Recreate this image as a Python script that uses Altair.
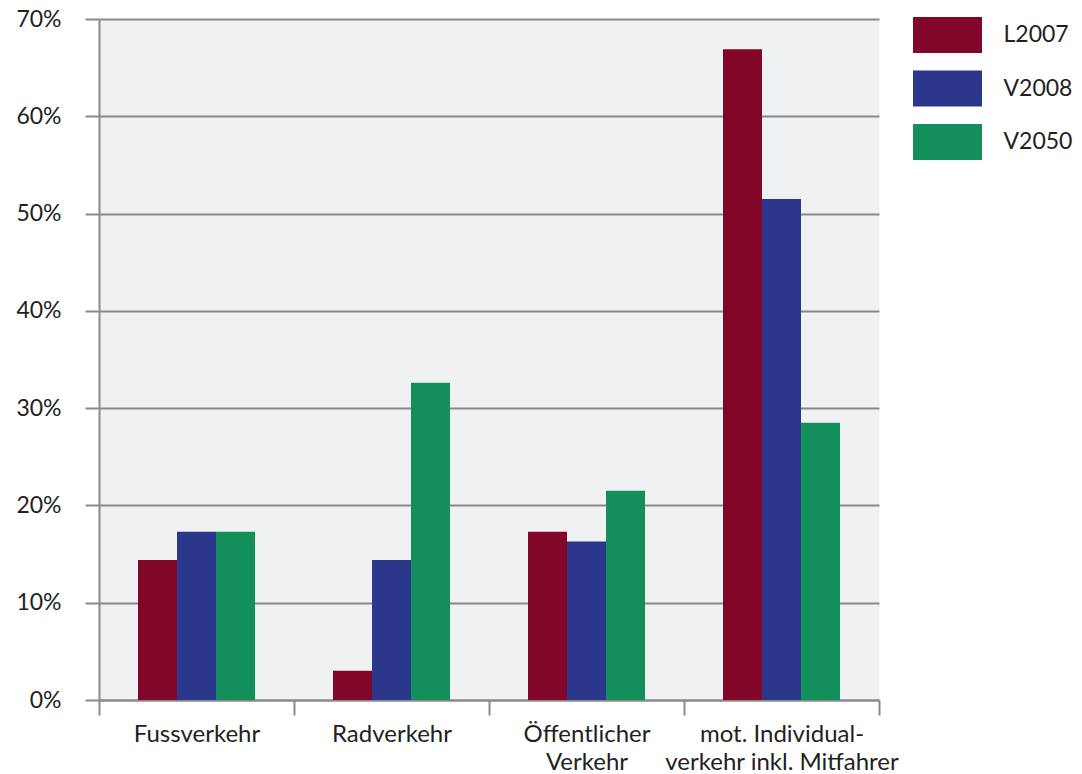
import altair as alt
import pandas as pd

categories = ["Fussverkehr", "Radverkehr", "Öffentlicher|Verkehr", "mot. Individual-|verkehr inkl. Mitfahrer"]
series = ["L2007", "V2008", "V2050"]
colors = ["#820628", "#2b378a", "#128f5a"]
L2007 = [14.4, 3.0, 17.3, 66.9]
V2008 = [17.3, 14.4, 16.3, 51.5]
V2050 = [17.3, 32.6, 21.5, 28.5]
y_ticks = [0, 10, 20, 30, 40, 50, 60, 70]

rows = []
for s, vals in zip(series, [L2007, V2008, V2050]):
    for c, v in zip(categories, vals):
        rows.append({"cat": c, "series": s, "value": v})
df = pd.DataFrame(rows)

FONT = "Lato"
GREY = "#8a8a8c"
TXT = "#231f20"

chart = alt.Chart(df).mark_bar().encode(
    x=alt.X("cat:N", sort=categories,
            scale=alt.Scale(paddingInner=0, paddingOuter=0),
            axis=alt.Axis(title=None, labelAngle=0, tickBand="extent",
                          labelExpr="split(datum.label, '|')",
                          tickSize=15, labelPadding=7, labelLineHeight=28,
                          labelFontSize=24, labelLimit=0, grid=False)),
    xOffset=alt.XOffset("series:N", sort=series,
                        scale=alt.Scale(paddingInner=0, paddingOuter=1)),
    y=alt.Y("value:Q", scale=alt.Scale(domain=[0, 70], nice=False),
            axis=alt.Axis(title=None, values=y_ticks, labelExpr="datum.value + '%'",
                          grid=True, tickSize=14, labelPadding=24, labelFontSize=23)),
    color=alt.Color("series:N", sort=series, title=None,
                    scale=alt.Scale(domain=series, range=colors),
                    legend=alt.Legend(orient="none", legendX=830.5, legendY=-2,
                                      symbolType="M-1.917,-1L1.917,-1L1.917,1L-1.917,1Z",
                                      symbolSize=1296, symbolStrokeWidth=0,
                                      symbolOpacity=1,
                                      labelFontSize=23, labelFont=FONT, labelColor=TXT,
                                      labelOffset=38, rowPadding=17.5)),
).properties(
    width=780, height=681,
    padding={"left": 99, "top": 19, "right": 203, "bottom": 74},
    autosize="none",
).configure_view(
    fill="#f0f1f3", stroke="transparent"
).configure_axis(
    domainColor=GREY, domainWidth=2, tickColor=GREY, tickWidth=2,
    gridColor=GREY, gridWidth=2, gridOpacity=1,
    labelFont=FONT, labelColor=TXT,
)

chart.save("out.html", embed_options={"renderer": "svg", "actions": False})
